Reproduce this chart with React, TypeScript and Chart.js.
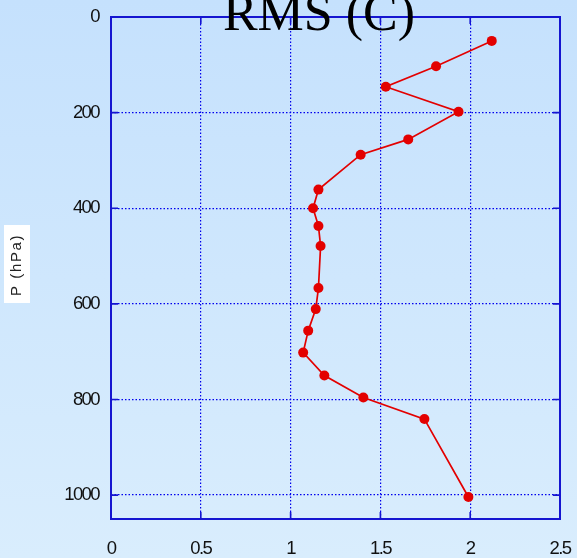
import React, { useEffect, useRef } from "react";
import { Chart, registerables } from "chart.js";

Chart.register(...registerables);

const pressure = [50, 103, 146, 198, 256, 288, 361, 400, 437, 479, 567, 611, 656, 702, 750, 796, 841, 1004];
const rms = [2.12, 1.81, 1.53, 1.935, 1.655, 1.39, 1.155, 1.125, 1.155, 1.167, 1.155, 1.14, 1.098, 1.07, 1.188, 1.405, 1.745, 1.99];
const xTickValues = [0, 0.5, 1, 1.5, 2, 2.5];
const xTickLabels = ["0", "0.5", "1", "1.5", "2", "2.5"];
const yTickValues = [0, 200, 400, 600, 800, 1000];
const yTickLabels = ["0", "200", "400", "600", "800", "1000"];
const titleText = "RMS (C)";
const yAxisTitle = "P (hPa)";

const BLUE = "#0000ee";
const FRAME = "#1515d0";
const RED = "#e30000";

function labelFor(values: number[], labels: string[], v: number) {
  const i = values.findIndex((x) => Math.abs(x - v) < 1e-6);
  return i >= 0 ? labels[i] : "";
}

export default function App() {
  const ref = useRef<HTMLCanvasElement | null>(null);

  useEffect(() => {
    const canvas = ref.current;
    if (!canvas) return;

    const decor = {
      id: "decor",
      beforeDraw(chart: any) {
        chart.ctx.letterSpacing = "-1.6px";
      },
      afterDraw(chart: any) {
        const { ctx, chartArea: a, scales } = chart;
        ctx.save();
        ctx.letterSpacing = "0px";
        ctx.strokeStyle = FRAME;
        ctx.lineWidth = 2;
        ctx.setLineDash([]);
        ctx.strokeRect(a.left, a.top, a.right - a.left, a.bottom - a.top);
        ctx.lineWidth = 1.6;
        const tl = 7;
        scales.x.ticks.forEach((t: any) => {
          const px = scales.x.getPixelForValue(t.value);
          ctx.beginPath();
          ctx.moveTo(px, a.bottom);
          ctx.lineTo(px, a.bottom - tl);
          ctx.moveTo(px, a.top);
          ctx.lineTo(px, a.top + tl);
          ctx.stroke();
        });
        scales.y.ticks.forEach((t: any) => {
          const py = scales.y.getPixelForValue(t.value);
          ctx.beginPath();
          ctx.moveTo(a.left, py);
          ctx.lineTo(a.left + tl, py);
          ctx.moveTo(a.right, py);
          ctx.lineTo(a.right - tl, py);
          ctx.stroke();
        });
        ctx.fillStyle = "#ffffff";
        ctx.fillRect(4, 225, 26, 78);
        ctx.translate(17, 265);
        ctx.rotate(-Math.PI / 2);
        ctx.fillStyle = "#222222";
        ctx.font = "15px 'Liberation Sans', Arial, sans-serif";
        ctx.letterSpacing = "1.6px";
        ctx.textAlign = "center";
        ctx.textBaseline = "middle";
        ctx.fillText(yAxisTitle, 0, 0);
        ctx.restore();
        ctx.save();
        ctx.letterSpacing = "0px";
        ctx.fillStyle = "#000000";
        ctx.font = "52px 'Liberation Serif', 'Times New Roman', serif";
        ctx.textAlign = "center";
        ctx.textBaseline = "alphabetic";
        ctx.fillText(titleText, 319, 30);
        ctx.restore();
      },
    };

    const tickFont = { family: "'Liberation Sans', Arial, sans-serif", size: 18.5 };

    const chart = new Chart(canvas, {
      type: "scatter",
      data: {
        datasets: [
          {
            data: rms.map((v, i) => ({ x: v, y: pressure[i] })),
            showLine: true,
            borderColor: RED,
            borderWidth: 1.7,
            pointRadius: 5,
            pointBackgroundColor: RED,
            pointBorderColor: RED,
            pointBorderWidth: 0,
          },
        ],
      },
      options: {
        responsive: false,
        animation: false,
        layout: { padding: { top: 17, right: 17, left: 0, bottom: 0 } },
        plugins: { legend: { display: false }, tooltip: { enabled: false } },
        scales: {
          x: {
            type: "linear",
            min: 0,
            max: 2.5,
            afterBuildTicks: (s: any) => {
              s.ticks = xTickValues.map((v) => ({ value: v }));
            },
            ticks: {
              stepSize: 0.5,
              padding: 19,
              color: "#111111",
              font: tickFont,
              callback: (v: any) => labelFor(xTickValues, xTickLabels, Number(v)),
            },
            grid: { color: BLUE, lineWidth: 1.2, drawTicks: false },
            border: { display: false, dash: [1.5, 2] },
            afterFit: (s: any) => {
              s.height = 39;
              s.paddingLeft = 0;
              s.paddingRight = 0;
            },
          },
          y: {
            type: "linear",
            reverse: true,
            min: 0,
            max: 1050,
            afterBuildTicks: (s: any) => {
              s.ticks = yTickValues.map((v) => ({ value: v }));
            },
            ticks: {
              stepSize: 200,
              padding: 12,
              color: "#111111",
              font: tickFont,
              callback: (v: any) => labelFor(yTickValues, yTickLabels, Number(v)),
            },
            grid: { color: BLUE, lineWidth: 1.2, drawTicks: false },
            border: { display: false, dash: [1.5, 2] },
            afterFit: (s: any) => {
              s.width = 111;
              s.paddingTop = 0;
              s.paddingBottom = 0;
            },
          },
        },
      } as any,
      plugins: [decor],
    });
    return () => chart.destroy();
  }, []);

  return (
    <div
      style={{
        position: "fixed",
        left: 0,
        top: 0,
        width: 577,
        height: 558,
        background: "linear-gradient(to bottom, #c5e1fd 0%, #d9edfd 100%)",
      }}
    >
      <canvas ref={ref} width={577} height={558} style={{ display: "block" }} />
    </div>
  );
}
